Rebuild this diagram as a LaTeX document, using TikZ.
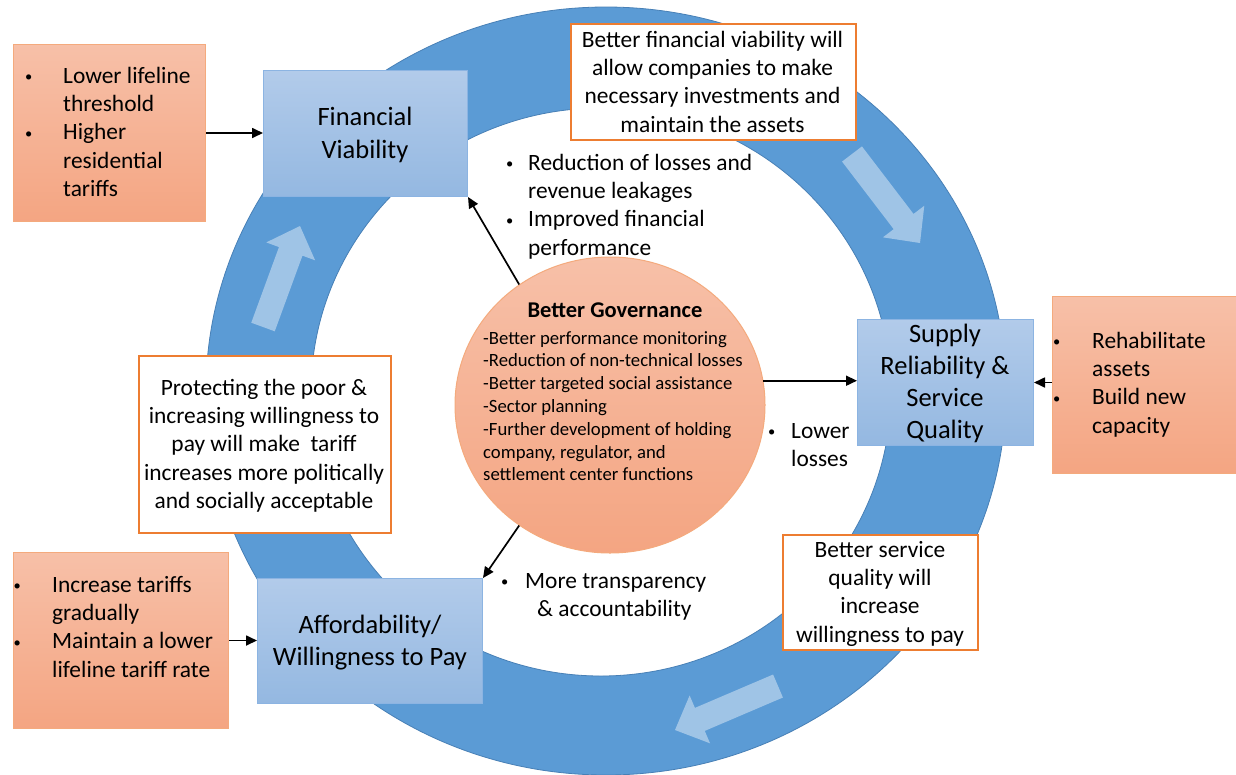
\documentclass[tikz,border=0pt]{standalone}
\usepackage{fontspec}
\usepackage{graphicx}
\setmainfont{Carlito}
\usetikzlibrary{calc,arrows.meta,shapes.geometric}
\definecolor{ringblue}{RGB}{91,155,213}
\definecolor{ringedge}{RGB}{72,128,182}
\definecolor{btop}{RGB}{178,203,234}
\definecolor{bbot}{RGB}{148,184,225}
\definecolor{bedge}{RGB}{140,180,226}
\definecolor{otop}{RGB}{247,192,168}
\definecolor{obot}{RGB}{244,165,130}
\definecolor{oedge}{RGB}{244,170,125}
\definecolor{wedge}{RGB}{237,125,49}
\newcommand\bul{\raisebox{0.06em}{\scalebox{0.62}{\textbullet}}}
\tikzset{
 bluebox/.style={rectangle, anchor=north west, inner sep=0, top color=btop, bottom color=bbot, draw=bedge, line width=1pt},
 orangebox/.style={rectangle, anchor=north west, inner sep=0, top color=otop, bottom color=obot, draw=oedge, line width=1pt},
 notebox/.style={rectangle, anchor=north west, inner sep=0, fill=white, draw=wedge, line width=1.6pt},
 body/.style={inner sep=0, font=\fontsize{23.4}{28.3}\selectfont},
 small/.style={inner sep=0, font=\fontsize{18.7}{22.8}\selectfont},
 conn/.style={line width=1.7pt, -{Triangle[length=11pt,width=10pt]}},
 lightarrow/.style={fill=white, fill opacity=0.42},
}
\newcommand\blockarr[2]{%
  \coordinate (bT) at (#1);
  \coordinate (bH) at (#2);
  \coordinate (bS) at ($(bH)!27pt!(bT)$);
  \fill[lightarrow] ($(bT)!12.5pt!90:(bH)$) -- ($(bS)!12.5pt!90:(bH)$) -- ($(bS)!26pt!90:(bH)$) -- (bH)
     -- ($(bS)!26pt!-90:(bH)$) -- ($(bS)!12.5pt!-90:(bH)$) -- ($(bT)!12.5pt!-90:(bH)$) -- cycle;
}
\begin{document}
\begin{tikzpicture}[x=1pt,y=-1pt]
\useasboundingbox (0,0) rectangle (1236,774);
\fill[white] (0,0) rectangle (1236,774);

% ring
\fill[ringblue, even odd rule, draw=ringedge, line width=0.8pt]
  (606,391) ellipse [x radius=400pt, y radius=384pt]
  (601,392) ellipse [x radius=290pt, y radius=284pt];

% light block arrows on the ring
\blockarr{263,327}{300,226}
\blockarr{852,154}{920,243}
\blockarr{778,686}{675,730}

% boxes
\node[bluebox, minimum width=204pt, minimum height=126pt] (fv) at (263,70) {};
\node[orangebox, minimum width=192pt, minimum height=177pt] (tl) at (13,44) {};
\node[notebox, minimum width=285pt, minimum height=116pt] (topnote) at (570,23) {};
\node[bluebox, minimum width=176pt, minimum height=126pt] (supply) at (857,319) {};
\node[orangebox, minimum width=190pt, minimum height=177pt] (ro) at (1052,296) {};
\node[notebox, minimum width=252pt, minimum height=177pt] (leftnote) at (138,355) {};
\node[orangebox, minimum width=215pt, minimum height=176pt] (bl) at (13,552) {};
\node[bluebox, minimum width=225pt, minimum height=125pt] (afford) at (257,578) {};
\node[notebox, minimum width=195pt, minimum height=115pt] (brnote) at (782,534) {};
\node[ellipse, minimum width=310pt, minimum height=296pt, inner sep=0, top color=otop, bottom color=obot, draw=oedge, line width=1pt] (gov) at (610,405) {};

% texts
\node[body, anchor=north west, align=left] (tltext) at (25,63.2)
 {\strut\makebox[38pt][l]{\bul}Lower lifeline\\\hspace*{38pt}threshold\\\makebox[38pt][l]{\bul}Higher\\\hspace*{38pt}residential\\\hspace*{38pt}tariffs};
\node[inner sep=0, font=\fontsize{26.5}{33}\selectfont, anchor=north, align=center] (fvtext) at (365,101.9)
 {\strut Financial\\Viability};
\node[body, anchor=north, align=center] (toptext) at (712.5,27.2)
 {\strut Better financial viability will\\allow companies to make\\necessary investments and\\maintain the assets};
\node[body, anchor=north west, align=left] (redtext) at (506,150.2)
 {\strut\makebox[22pt][l]{\bul}Reduction of losses and\\\hspace*{22pt}revenue leakages\\\makebox[22pt][l]{\bul}Improved financial\\\hspace*{22pt}performance};
\node[inner sep=0, font=\fontsize{22.5}{24}\selectfont\bfseries, anchor=north] (govtitle) at (615,300.2)
 {\strut Better Governance};
\node[small, anchor=north west, align=left] (govtext) at (483,328)
 {\strut -Better performance monitoring\\-Reduction of non-technical losses\\-Better targeted social assistance\\-Sector planning\\-Further development of holding\\company, regulator, and\\settlement center functions};
\node[inner sep=0, font=\fontsize{26.5}{32}\selectfont, anchor=north, align=center] (supplytext) at (945,319.6)
 {\strut Supply\\Reliability \&\\Service\\Quality};
\node[body, anchor=north west, align=left] (rotext) at (1053,328.2)
 {\strut\makebox[39pt][l]{\bul}Rehabilitate\\\hspace*{39pt}assets\\\makebox[39pt][l]{\bul}Build new\\\hspace*{39pt}capacity};
\node[body, anchor=north west, align=left] (lowtext) at (768,418.2)
 {\strut\makebox[23pt][l]{\bul}Lower\\\hspace*{23pt}losses};
\node[body, anchor=north, align=center] (lefttext) at (264,375.2)
 {\strut Protecting the poor \&\\increasing willingness to\\pay will make\ \ tariff\\increases more politically\\and socially acceptable};
\node[body, anchor=north west, align=left] (bltext) at (13.5,572.2)
 {\strut\makebox[38.5pt][l]{\bul}Increase tariffs\\\hspace*{38.5pt}gradually\\\makebox[38.5pt][l]{\bul}Maintain a lower\\\hspace*{38.5pt}lifeline tariff rate};
\node[inner sep=0, font=\fontsize{26.5}{32}\selectfont, anchor=north, align=center] (affordtext) at (370,610.6)
 {\strut Affordability/\\Willingness to Pay};
\node[body, anchor=north west, align=left] (transtext) at (501,568.2)
 {\strut\makebox[24pt][l]{\bul}More transparency\\\hspace*{36pt}\& accountability};
\node[body, anchor=north, align=center] (brtext) at (880,537.2)
 {\strut Better service\\quality will\\increase\\willingness to pay};

% connectors
\draw[conn] (tl.east) -- (tl.east -| fv.west);
\draw[conn] (gov.127) -- (fv.south east);
\draw[conn] (gov.9) -- (gov.9 -| supply.west);
\draw[conn] (supply.east -| ro.west) -- (supply.east);
\draw[conn] (gov.233) -- (afford.north east);
\draw[conn] (bl.east) -- (bl.east -| afford.west);
\end{tikzpicture}
\end{document}
